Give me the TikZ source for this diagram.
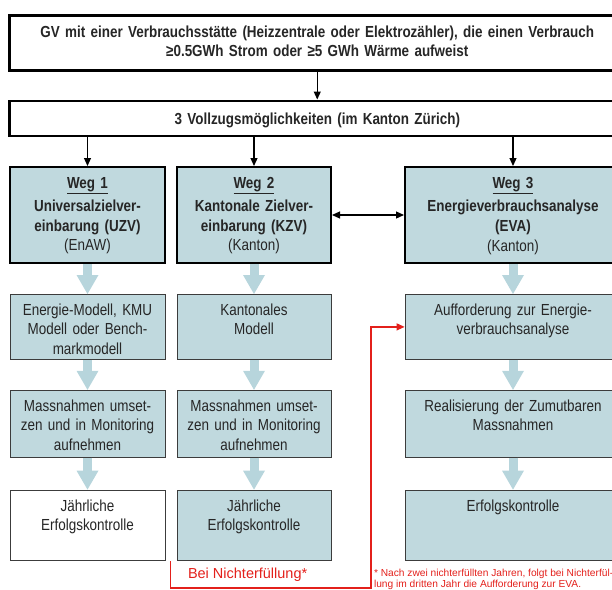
\documentclass[tikz,border=0pt]{standalone}
\usepackage{fontspec}
\setmainfont{Liberation Sans}[FakeStretch=0.84]
\newfontfamily\notefont{Liberation Sans}
\usetikzlibrary{positioning,arrows.meta}

\definecolor{boxblue}{HTML}{C0D9DE}
\definecolor{flowblue}{HTML}{B7D5DC}
\definecolor{failred}{HTML}{E3201B}
\definecolor{cellline}{HTML}{3C3C3C}

\begin{document}
\begin{tikzpicture}[x=1pt, y=1pt, node distance=30pt, thick,
    cell/.style={rectangle, draw, fill=boxblue, align=center, text=black!85,
                 inner xsep=0pt, inner ysep=4pt, text height=17pt,
                 font=\fontsize{16pt}{19.5pt}\selectfont},
    head node/.style={cell, line width=2.5pt, fill=white, text width=616pt, text height=18pt,
                 font=\bfseries\fontsize{16pt}{19pt}\selectfont},
    weg node/.style={cell, line width=2pt, text height=17pt, text depth=71pt},
    step node/.style={cell, draw=cellline, line width=0.8pt},
    link/.style={draw, line width=1.2pt, -{Triangle[length=8pt,width=7pt]}},
    flow/.style={draw=flowblue, line width=9pt, -{Triangle[length=19pt,width=22pt,line width=0pt]}},
    failline/.style={draw=failred, line width=1.3pt, -{Triangle[length=8pt,width=7pt]}},
    rednote/.style={text=failred, inner sep=0pt, anchor=base west, align=left}]

  \useasboundingbox (0,0) rectangle (612,-589);
  \clip (0,0) rectangle (612,-589);

  \node[head node, text depth=29pt, anchor=north west] (gv) at (8,-14)
    {GV mit einer Verbrauchsstätte (Heizzentrale oder Elektrozähler), die einen Verbrauch\\
     ≥0.5GWh Strom oder ≥5 GWh Wärme aufweist};
  \node[head node, text height=20pt, text depth=7pt] (vollzug) [below=28pt of gv]
    {3 Vollzugsmöglichkeiten (im Kanton Zürich)};

  \node[weg node, text width=155pt] (w1) [below right=29pt and 1pt of vollzug.south west]
    {\textbf{\underline{Weg 1}}\\[4pt] \textbf{Universalzielver-}\\ \textbf{einbarung (UZV)}\\ (EnAW)};
  \node[weg node, text width=154pt] (w2) [right=10pt of w1]
    {\textbf{\underline{Weg 2}}\\[4pt] \textbf{Kantonale Zielver-}\\ \textbf{einbarung (KZV)}\\ (Kanton)};
  \node[weg node, text width=216pt] (w3) [right=72pt of w2]
    {\textbf{\underline{Weg 3}}\\[4pt] \textbf{Energieverbrauchsanalyse}\\ \textbf{(EVA)}\\[1pt] (Kanton)};

  \node[step node, text width=155pt, text depth=40pt] (m1) [below=of w1]
    {Energie-Modell, KMU\\ Modell oder Bench-\\ markmodell};
  \node[step node, text width=154pt, text depth=40pt] (m2) [below=of w2]
    {Kantonales\\ Modell};
  \node[step node, text width=216pt, text depth=40pt] (a3) [below=of w3]
    {Aufforderung zur Energie-\\ verbrauchsanalyse};

  \node[step node, text width=155pt, text depth=42pt] (u1) [below=of m1]
    {Massnahmen umset-\\ zen und in Monitoring\\ aufnehmen};
  \node[step node, text width=154pt, text depth=42pt] (u2) [below=of m2]
    {Massnahmen umset-\\ zen und in Monitoring\\ aufnehmen};
  \node[step node, text width=216pt, text depth=42pt] (r3) [below=of a3]
    {Realisierung der Zumutbaren\\ Massnahmen};

  \node[step node, fill=white, text width=155pt, text depth=45pt] (j1) [below=32pt of u1]
    {Jährliche\\ Erfolgskontrolle};
  \node[step node, text width=154pt, text depth=45pt] (j2) [below=32pt of u2]
    {Jährliche\\ Erfolgskontrolle};
  \node[step node, text width=216pt, text depth=45pt] (e3) [below=32pt of r3]
    {Erfolgskontrolle};

  \node[rednote, font=\notefont\fontsize{14.5pt}{17pt}\selectfont] (nicht)
    at ([xshift=11pt,yshift=-18pt]j2.south west) {Bei Nichterfüllung*};
  \node[rednote, font=\notefont\fontsize{10.2pt}{11pt}\selectfont] (fussnote)
    at ([xshift=-31pt,yshift=-27pt]e3.south west)
    {* Nach zwei nichterfüllten Jahren, folgt bei Nichterfül-\\ lung im dritten Jahr die Aufforderung zur EVA.};

  \draw[link] (gv) -- (vollzug);
  \draw[link] (vollzug.south -| w1.north) -- (w1);
  \draw[link] (vollzug.south -| w2.north) -- (w2);
  \draw[link] (vollzug.south -| w3.north) -- (w3);
  \draw[link, {Triangle[length=8pt,width=7pt]}-{Triangle[length=8pt,width=7pt]}] (w2) -- (w3);

  \foreach \a/\b in {w1/m1, m1/u1, u1/j1, w2/m2, m2/u2, u2/j2, w3/a3, a3/r3, r3/e3}
    \draw[flow] (\a) -- (\b);

  \coordinate (nf) at ([xshift=-6pt,yshift=-1pt]j2.south west);
  \coordinate (nfturn) at (371,-588);
  \draw[failline] (nf) |- (nfturn) |- (a3.west);

\end{tikzpicture}
\end{document}
